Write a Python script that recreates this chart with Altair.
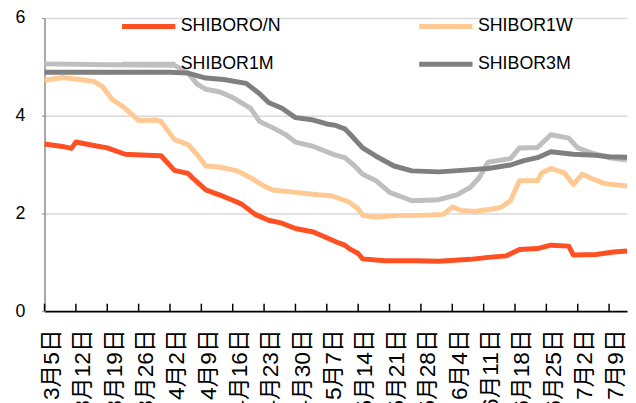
import altair as alt
import pandas as pd

YEAR = "2015"
FONT = "Liberation Sans, Noto Sans CJK SC, sans-serif"

series_names = ["SHIBORO/N", "SHIBOR1W", "SHIBOR1M", "SHIBOR3M"]
series_colors = ["#FF5023", "#FFC993", "#BFBFBF", "#7F7F7F"]

on_dates = ["03-05", "03-09", "03-11", "03-12", "03-16", "03-19", "03-23", "03-28", "03-31",
            "04-03", "04-06", "04-07", "04-10", "04-13", "04-16", "04-18", "04-21", "04-24",
            "04-27", "04-30", "05-04", "05-07", "05-09", "05-11", "05-12", "05-14", "05-15",
            "05-20", "05-27", "06-01", "06-08", "06-12", "06-16", "06-19", "06-23", "06-26",
            "06-30", "07-01", "07-06", "07-10", "07-13"]
on_vals = [3.42, 3.37, 3.33, 3.46, 3.39, 3.34, 3.21, 3.19, 3.18,
           2.88, 2.82, 2.73, 2.48, 2.38, 2.27, 2.19, 1.98, 1.86,
           1.80, 1.69, 1.62, 1.50, 1.42, 1.35, 1.28, 1.18, 1.07,
           1.03, 1.03, 1.02, 1.06, 1.10, 1.13, 1.26, 1.28, 1.35,
           1.33, 1.15, 1.16, 1.21, 1.23]

w1_dates = ["03-05", "03-09", "03-11", "03-16", "03-18", "03-20", "03-23", "03-26", "03-30",
            "03-31", "04-03", "04-06", "04-08", "04-10", "04-13", "04-17", "04-20", "04-23",
            "04-25", "04-30", "05-05", "05-08", "05-09", "05-12", "05-14", "05-15", "05-18",
            "05-23", "05-28", "06-02", "06-04", "06-06", "06-09", "06-13", "06-15", "06-17",
            "06-19", "06-23", "06-24", "06-26", "06-29", "07-01", "07-03", "07-05", "07-08",
            "07-13"]
w1_vals = [4.72, 4.78, 4.76, 4.70, 4.59, 4.34, 4.15, 3.90, 3.91,
           3.88, 3.51, 3.41, 3.21, 2.97, 2.95, 2.87, 2.73, 2.56,
           2.48, 2.43, 2.38, 2.36, 2.33, 2.23, 2.09, 1.96, 1.92,
           1.96, 1.96, 1.98, 2.13, 2.06, 2.04, 2.09, 2.13, 2.26,
           2.67, 2.67, 2.83, 2.92, 2.83, 2.59, 2.80, 2.72, 2.61,
           2.56]

m1_dates = ["03-05", "03-19", "04-03", "04-06", "04-08", "04-10", "04-13", "04-16", "04-20",
            "04-22", "04-25", "04-28", "04-30", "05-04", "05-07", "05-09", "05-11", "05-13",
            "05-15", "05-18", "05-21", "05-26", "06-01", "06-05", "06-08", "06-10", "06-12",
            "06-17", "06-19", "06-23", "06-26", "06-30", "07-02", "07-05", "07-09", "07-13"]
m1_vals = [5.06, 5.04, 5.03, 4.88, 4.65, 4.54, 4.49, 4.37, 4.15,
           3.88, 3.75, 3.60, 3.46, 3.37, 3.26, 3.19, 3.14, 2.99,
           2.80, 2.67, 2.43, 2.26, 2.28, 2.38, 2.53, 2.73, 3.05,
           3.12, 3.34, 3.35, 3.61, 3.54, 3.34, 3.24, 3.14, 3.09]

m3_dates = ["03-05", "04-02", "04-06", "04-10", "04-14", "04-19", "04-22", "04-24", "04-27",
            "04-30", "05-04", "05-07", "05-09", "05-11", "05-12", "05-15", "05-18", "05-22",
            "05-26", "06-01", "06-06", "06-12", "06-17", "06-20", "06-23", "06-26", "07-01",
            "07-06", "07-09", "07-13"]
m3_vals = [4.89, 4.89, 4.87, 4.77, 4.74, 4.66, 4.45, 4.27, 4.15,
           3.96, 3.91, 3.83, 3.80, 3.73, 3.64, 3.34, 3.17, 2.97,
           2.87, 2.85, 2.88, 2.92, 2.99, 3.08, 3.14, 3.26, 3.21,
           3.19, 3.16, 3.15]

tick_dates = ["03-05", "03-12", "03-19", "03-26", "04-02", "04-09", "04-16", "04-23", "04-30",
              "05-07", "05-14", "05-21", "05-28", "06-04", "06-11", "06-18", "06-25", "07-02",
              "07-09"]
y_ticks = [0, 2, 4, 6]

rows = []
for name, ds, vs in zip(series_names, [on_dates, w1_dates, m1_dates, m3_dates],
                        [on_vals, w1_vals, m1_vals, m3_vals]):
    for d, v in zip(ds, vs):
        rows.append({"date": f"{YEAR}-{d}T00:00:00", "series": name, "value": v})
df = pd.DataFrame(rows)
ticks_df = pd.DataFrame({"date": [f"{YEAR}-{d}T00:00:00" for d in tick_dates]})


def dt(s):
    m, d = s.split("-")
    return alt.DateTime(year=int(YEAR), month=int(m), date=int(d))


x_domain = [dt("03-05"), dt("07-13")]
tick_vals = [dt(s) for s in tick_dates]

x_scale = alt.Scale(domain=x_domain, nice=False)
x_axis = alt.Axis(values=tick_vals, format="%-m月%-d日", labelAngle=270,
                  labelFont=FONT, labelFontSize=23, labelColor="#000000",
                  labelPadding=18, labelOffset=7, labelFlush=False,
                  labelOverlap=False, labelSeparation=0, ticks=False, grid=False,
                  domainColor="#000000", domainWidth=2, title=None)

lines = alt.Chart(df).mark_line(strokeWidth=5, strokeJoin="round").encode(
    x=alt.X("date:T", scale=x_scale, axis=x_axis),
    y=alt.Y("value:Q",
            scale=alt.Scale(domain=[0, 6], nice=False),
            axis=alt.Axis(values=y_ticks, labelFont=FONT, labelFontSize=18,
                          labelColor="#000000", labelPadding=17, tickSize=3,
                          tickColor="#8C8C8C", domainColor="#8C8C8C", domainWidth=1.5,
                          gridColor="#D9D9D9", gridWidth=1.5, title=None)),
    color=alt.Color("series:N",
                    scale=alt.Scale(domain=series_names, range=series_colors),
                    sort=series_names,
                    legend=alt.Legend(title=None, orient="none", direction="horizontal",
                                      legendX=78.5, legendY=-4,
                                      columns=2, columnPadding=130, rowPadding=15.5,
                                      symbolType="M-2.7,0L2.7,0", symbolSize=400,
                                      symbolStrokeWidth=5, symbolOffset=14.5,
                                      labelOffset=20, labelFont=FONT, labelFontSize=18,
                                      labelColor="#000000", padding=0)),
)

tick_marks = alt.Chart(ticks_df).mark_rule(color="#000000", strokeWidth=1.5).encode(
    x=alt.X("date:T", scale=x_scale, axis=x_axis),
    y=alt.value(289.5),
    y2=alt.value(297),
)

chart = alt.layer(lines, tick_marks).properties(
    width=590,
    height=297,
    padding={"left": 37, "top": 7.5, "right": 1, "bottom": 90.5},
    autosize=alt.AutoSizeParams(type="none"),
    background="#ffffff",
).configure_view(strokeWidth=0)

chart.save("out.html", embed_options={"renderer": "svg", "actions": False})
